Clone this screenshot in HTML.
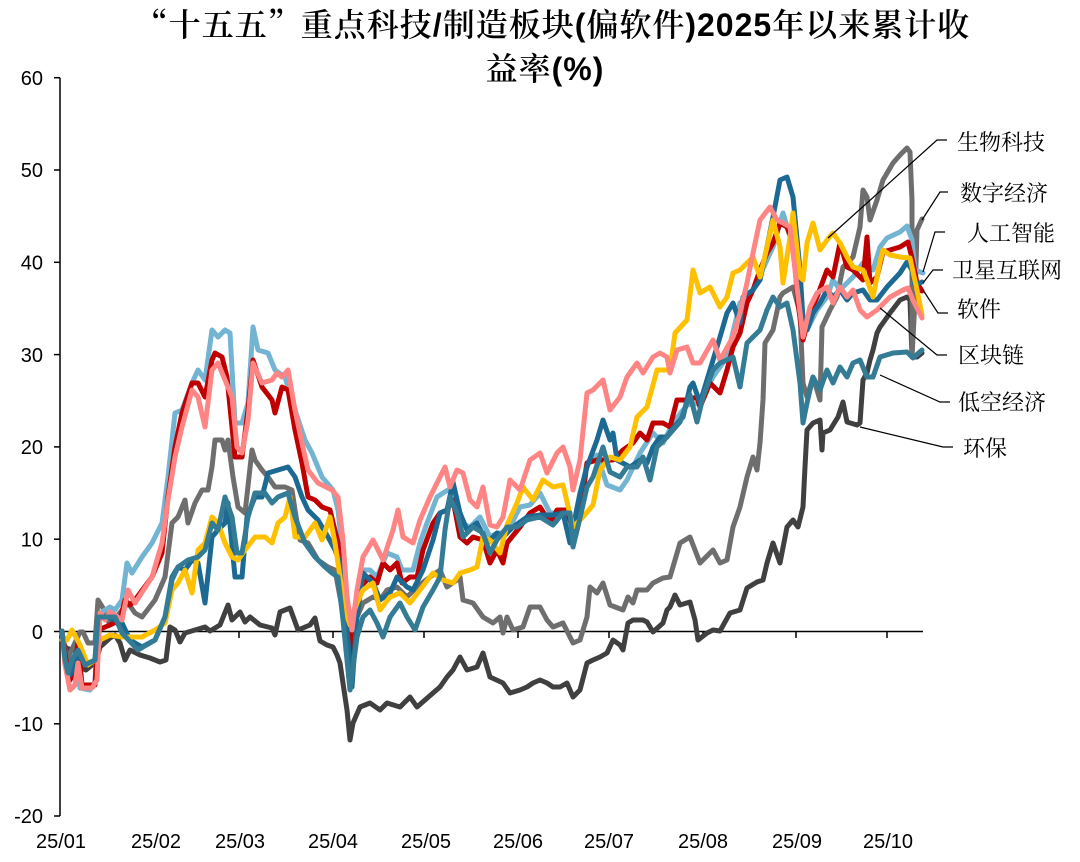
<!DOCTYPE html>
<html>
<head>
<meta charset="utf-8">
<style>
  html,body{margin:0;padding:0;background:#fff;}
  svg{display:block;}
  .ax{font-family:"Liberation Sans",Arial,sans-serif;font-size:20px;fill:#000;}
  .lg{font-family:"Noto Serif CJK SC","Liberation Serif",serif;font-size:22px;fill:#000;}
  .s{fill:none;stroke-width:5;stroke-linejoin:round;stroke-linecap:round;}
  .ld{fill:none;stroke:#000;stroke-width:1.2;}
</style>
</head>
<body>
<svg width="1080" height="862" viewBox="0 0 1080 862" xmlns="http://www.w3.org/2000/svg">
<rect width="1080" height="862" fill="#fff"/>

<!-- Title -->
<text x="553" y="36" text-anchor="middle" font-size="32" font-weight="600" letter-spacing="1" font-family="'Liberation Sans','Noto Serif CJK SC',serif" fill="#000"><tspan font-family="'Noto Serif CJK SC',serif">“十五五”</tspan>重点科技/制造板块(偏软件)2025年以来累计收</text>
<text x="545" y="80" text-anchor="middle" font-size="32" font-weight="600" letter-spacing="1" font-family="'Liberation Sans','Noto Serif CJK SC',serif" fill="#000">益率(%)</text>

<!-- Axes -->
<line x1="60" y1="77.7" x2="60" y2="816" stroke="#000" stroke-width="1.5"/>
<g stroke="#000" stroke-width="1.5">
  <line x1="54" y1="77.7" x2="60" y2="77.7"/>
  <line x1="54" y1="170" x2="60" y2="170"/>
  <line x1="54" y1="262.3" x2="60" y2="262.3"/>
  <line x1="54" y1="354.6" x2="60" y2="354.6"/>
  <line x1="54" y1="446.9" x2="60" y2="446.9"/>
  <line x1="54" y1="539.2" x2="60" y2="539.2"/>
  <line x1="54" y1="631.5" x2="60" y2="631.5"/>
  <line x1="54" y1="723.8" x2="60" y2="723.8"/>
  <line x1="54" y1="816" x2="60" y2="816"/>
</g>
<line x1="60" y1="631.5" x2="923" y2="631.5" stroke="#000" stroke-width="1.5"/>
<g stroke="#000" stroke-width="1.5">
  <line x1="156" y1="631.5" x2="156" y2="638"/>
  <line x1="239" y1="631.5" x2="239" y2="638"/>
  <line x1="333" y1="631.5" x2="333" y2="638"/>
  <line x1="424" y1="631.5" x2="424" y2="638"/>
  <line x1="518" y1="631.5" x2="518" y2="638"/>
  <line x1="609" y1="631.5" x2="609" y2="638"/>
  <line x1="703" y1="631.5" x2="703" y2="638"/>
  <line x1="796" y1="631.5" x2="796" y2="638"/>
  <line x1="887" y1="631.5" x2="887" y2="638"/>
</g>

<g class="ax" text-anchor="end">
  <text x="43" y="85">60</text>
  <text x="43" y="177">50</text>
  <text x="43" y="269.5">40</text>
  <text x="43" y="362">30</text>
  <text x="43" y="454">20</text>
  <text x="43" y="546.5">10</text>
  <text x="43" y="639">0</text>
  <text x="43" y="731">-10</text>
  <text x="43" y="823">-20</text>
</g>
<g class="ax" text-anchor="middle">
  <text x="61" y="848">25/01</text>
  <text x="156" y="848">25/02</text>
  <text x="240" y="848">25/03</text>
  <text x="333" y="848">25/04</text>
  <text x="426" y="848">25/05</text>
  <text x="518" y="848">25/06</text>
  <text x="609" y="848">25/07</text>
  <text x="703" y="848">25/08</text>
  <text x="797" y="848">25/09</text>
  <text x="888" y="848">25/10</text>
</g>

<!-- 环保 -->
<polyline class="s" stroke="#404040" points="62,640 66,648 72,650 78,652 82,668 86,670 92,665 96,662 100,647 110,638 115,635 120,643 125,660 130,650 140,655 150,658 160,662 166,660 170,627 175,630 180,642 185,633 195,630 205,627 210,631 220,625 228,605 232,620 240,612 245,622 250,617 260,625 272,628 275,635 280,612 290,608 298,630 310,625 315,618 320,641 327,645 333,647 337,655 340,663 344,690 347,710 350,740 353,723 360,707 370,703 380,710 387,703 400,707 410,697 417,707 433,693 440,687 447,677 453,670 460,657 467,670 477,667 483,653 490,677 503,683 510,693 520,690 527,687 533,683 540,680 547,683 553,687 560,687 567,683 573,697 580,690 587,663 593,660 600,657 607,653 613,640 620,645 623,650 628,623 633,620 643,620 647,622 653,632 663,623 667,610 670,607 675,595 680,605 690,602 695,620 698,640 707,633 713,630 720,631 730,613 740,610 747,588 757,582 763,580 767,563 773,543 780,563 787,527 793,520 798,527 803,507 805,467 807,430 813,423 820,420 822,450 823,433 830,430 838,417 843,402 847,422 857,425 860,423 863,380 867,373 870,360 873,350 877,333 880,327 883,323 890,313 900,300 907,297 910,300 912,357 917,357 922,353"/>

<!-- 数字经济 -->
<polyline class="s" stroke="#6e6e6e" points="62,633 67,660 73,647 80,632 83,632 88,643 95,643 98,600 103,608 110,625 122,610 128,603 135,613 142,617 155,600 165,577 172,523 178,517 185,500 188,523 195,503 202,490 208,490 212,467 215,440 222,440 225,450 228,440 233,477 238,507 245,513 252,450 255,460 262,470 268,477 275,487 285,487 292,490 295,510 300,540 308,543 318,560 328,567 335,570 340,597 347,630 352,637 357,617 363,603 373,597 380,600 387,590 397,587 407,597 417,587 430,577 440,570 447,587 457,580 460,577 463,600 473,603 483,617 493,623 500,617 503,633 507,617 513,630 523,627 530,607 540,607 547,620 553,627 563,623 573,643 580,640 587,617 590,587 597,593 603,583 610,605 623,610 628,597 633,603 637,590 647,590 653,583 663,578 670,577 680,543 690,537 700,563 713,550 720,563 727,560 733,527 740,507 747,477 753,457 757,470 760,443 763,400 765,343 773,330 780,297 783,293 793,287 800,313 803,383 807,397 813,377 820,400 822,327 830,310 837,297 843,267 853,257 860,227 863,190 867,197 870,220 877,200 883,180 893,163 900,155 907,148 910,152 912,200 912,357 915,300 917,230 922,219"/>

<!-- 人工智能 -->
<polyline class="s" stroke="#72b4d2" points="62,631 65,660 70,690 75,685 77,662 80,688 90,690 95,682 98,620 102,612 110,607 115,610 122,600 127,563 132,573 142,557 152,543 162,523 168,477 175,413 182,410 192,383 198,370 205,380 212,330 218,337 225,330 230,333 235,423 242,423 248,403 253,327 258,350 268,353 275,370 285,377 295,410 305,440 312,453 322,477 333,490 338,510 345,577 350,630 357,597 363,570 370,570 377,577 387,553 397,557 402,570 413,570 420,543 427,523 437,497 443,493 453,487 460,523 470,527 480,517 490,537 497,533 507,533 520,507 530,505 540,493 550,513 567,513 573,530 587,463 597,455 607,485 620,490 627,480 640,453 653,433 663,443 673,423 687,405 700,403 713,377 727,357 740,303 753,290 767,260 773,247 783,213 793,247 800,313 807,330 817,310 827,297 833,280 840,290 847,283 853,277 863,263 867,265 873,270 880,247 887,238 900,232 907,226 912,240 915,270 923,273"/>

<!-- 软件 -->
<polyline class="s" stroke="#c00000" points="62,631 66,660 70,680 75,670 78,642 82,685 95,685 98,630 110,625 120,620 125,600 130,605 135,600 152,577 162,553 168,497 175,447 182,413 192,383 198,383 205,397 212,360 215,353 222,357 227,377 235,457 242,457 248,410 253,360 262,387 272,400 275,413 282,387 288,390 295,430 302,463 308,497 315,500 322,507 330,510 338,543 343,597 347,630 350,663 353,623 360,587 370,577 377,583 383,563 390,570 397,563 402,583 410,577 417,577 423,550 433,523 440,513 447,510 453,500 460,537 467,543 473,537 483,540 490,563 497,550 503,563 507,543 520,527 530,513 540,507 550,523 557,510 567,510 573,530 580,517 587,463 597,460 607,460 613,460 623,450 633,443 640,433 647,440 653,423 663,423 670,427 677,400 687,400 697,397 700,407 710,383 720,393 727,370 733,347 740,333 747,303 753,290 760,270 767,253 773,243 780,223 787,227 793,243 798,303 803,340 810,313 817,297 827,270 833,277 840,243 847,267 853,270 863,280 867,237 870,283 877,277 883,252 890,250 900,247 908,242 912,258 917,283 922,291"/>

<!-- 卫星互联网 -->
<polyline class="s" stroke="#1c6a93" points="62,631 65,660 70,675 75,665 80,652 85,665 95,660 98,618 110,618 122,623 130,640 142,647 155,640 165,617 172,577 178,567 185,570 192,560 198,563 205,603 212,537 218,530 225,523 228,503 235,577 242,577 247,517 255,497 262,497 268,473 278,470 288,467 295,477 302,497 308,510 318,520 328,537 335,550 340,563 347,630 352,687 357,617 363,573 373,583 380,600 390,593 397,577 407,587 413,590 423,570 433,540 440,513 447,510 453,482 460,513 467,530 477,523 487,543 497,533 503,537 513,527 527,517 540,515 553,515 563,513 570,543 580,493 587,467 597,440 603,420 610,440 613,433 617,460 630,467 640,460 647,463 653,447 660,437 667,437 673,428 683,417 690,387 693,383 700,403 710,370 720,337 727,313 733,303 740,323 743,297 753,290 760,280 767,247 773,217 780,180 787,177 793,197 800,270 803,320 807,330 813,313 820,303 827,290 833,297 840,290 847,300 853,293 863,290 870,300 877,300 887,287 900,273 907,262 912,270 915,285 922,282"/>

<!-- 生物科技 -->
<polyline class="s" stroke="#ffc000" points="62,640 67,640 72,630 80,645 88,665 95,660 100,640 110,635 122,637 142,637 155,630 165,623 172,590 178,583 185,570 192,593 198,550 205,543 212,517 218,523 225,543 232,557 238,560 245,550 255,537 265,537 272,543 278,523 285,517 290,497 295,537 305,537 315,523 322,540 330,517 335,543 345,610 350,625 352,617 357,603 363,590 373,583 380,610 390,597 400,593 410,603 420,590 433,573 443,580 453,583 460,573 470,570 477,567 483,537 490,540 500,553 507,525 517,503 523,487 533,500 543,480 553,487 563,485 573,527 583,517 593,505 600,470 610,457 620,460 630,447 637,417 647,407 657,370 670,370 675,333 687,320 693,270 700,293 710,287 720,307 727,297 733,273 740,270 747,263 753,257 760,277 767,247 773,220 780,247 783,283 790,237 793,213 800,277 803,280 807,243 813,223 820,250 827,240 833,233 840,243 847,257 853,267 863,270 867,280 873,297 880,262 883,250 890,255 900,257 910,258 917,290 922,315"/>

<!-- 区块链 -->
<polyline class="s" stroke="#ff8585" points="62,631 65,665 70,690 75,685 78,663 82,688 92,688 97,680 100,613 105,620 110,612 122,620 128,590 135,603 152,577 162,543 168,500 175,457 182,427 192,390 198,397 205,427 212,370 218,363 225,380 232,397 237,447 242,453 248,420 253,363 262,383 272,380 277,373 282,377 288,370 295,410 302,443 308,470 318,483 332,490 338,497 343,540 347,597 352,630 357,590 363,557 373,540 383,560 393,530 398,510 403,537 413,543 420,520 430,497 440,477 445,467 450,487 457,470 463,473 470,500 477,507 483,487 490,525 497,527 503,517 510,480 520,490 530,460 540,453 547,473 557,453 563,447 570,467 573,490 580,460 587,393 593,390 603,380 610,410 620,397 627,377 637,363 643,373 653,357 660,353 667,357 670,373 677,350 687,347 693,363 700,363 713,340 720,360 733,337 740,313 747,283 753,253 760,220 770,207 777,220 783,223 790,227 797,287 803,337 810,307 817,293 827,287 833,303 840,287 847,297 853,290 860,310 867,317 877,310 890,297 903,290 908,288 913,300 922,318"/>

<!-- 低空经济 -->
<polyline class="s" stroke="#347b95" points="62,631 65,660 68,673 72,660 78,650 85,665 95,660 98,617 115,617 122,633 138,650 155,640 165,617 172,580 178,567 188,560 198,557 205,550 212,523 218,530 225,497 232,517 237,553 242,553 248,517 255,493 265,493 272,503 278,497 288,493 295,517 305,543 315,557 325,567 332,573 338,577 343,620 350,690 357,637 363,617 370,610 377,623 383,637 390,617 400,603 407,617 415,630 423,607 433,590 440,577 445,530 450,497 457,513 463,537 473,527 483,533 490,553 497,540 507,527 517,527 527,520 540,517 553,525 563,513 570,513 573,547 580,518 587,487 593,477 603,447 610,472 620,477 627,467 637,467 643,457 650,480 657,447 667,437 680,422 690,395 697,422 703,397 713,370 720,363 727,360 733,357 740,387 747,343 753,337 760,330 767,310 773,297 780,307 787,303 793,330 800,383 803,423 807,403 813,377 820,390 827,370 833,383 840,367 847,377 853,363 860,360 867,377 873,377 880,357 893,353 907,352 913,358 922,350"/>

<!-- Leader lines -->
<polyline class="ld" points="828,238 937,140 947,140"/>
<polyline class="ld" points="922,220 940,192 948,192"/>
<polyline class="ld" points="923,272 935,232 945,232"/>
<polyline class="ld" points="923,283 933,270 943,270"/>
<polyline class="ld" points="923,290 938,313 948,313"/>
<polyline class="ld" points="880,308 937,355 947,355"/>
<polyline class="ld" points="880,375 940,402 950,402"/>
<polyline class="ld" points="860,427 943,447 953,447"/>

<!-- Labels -->
<g class="lg">
  <text x="957" y="150">生物科技</text>
  <text x="960" y="201">数字经济</text>
  <text x="967" y="241">人工智能</text>
  <text x="952" y="278">卫星互联网</text>
  <text x="957" y="317">软件</text>
  <text x="958" y="363">区块链</text>
  <text x="958" y="410">低空经济</text>
  <text x="963" y="456">环保</text>
</g>
</svg>
</body>
</html>
